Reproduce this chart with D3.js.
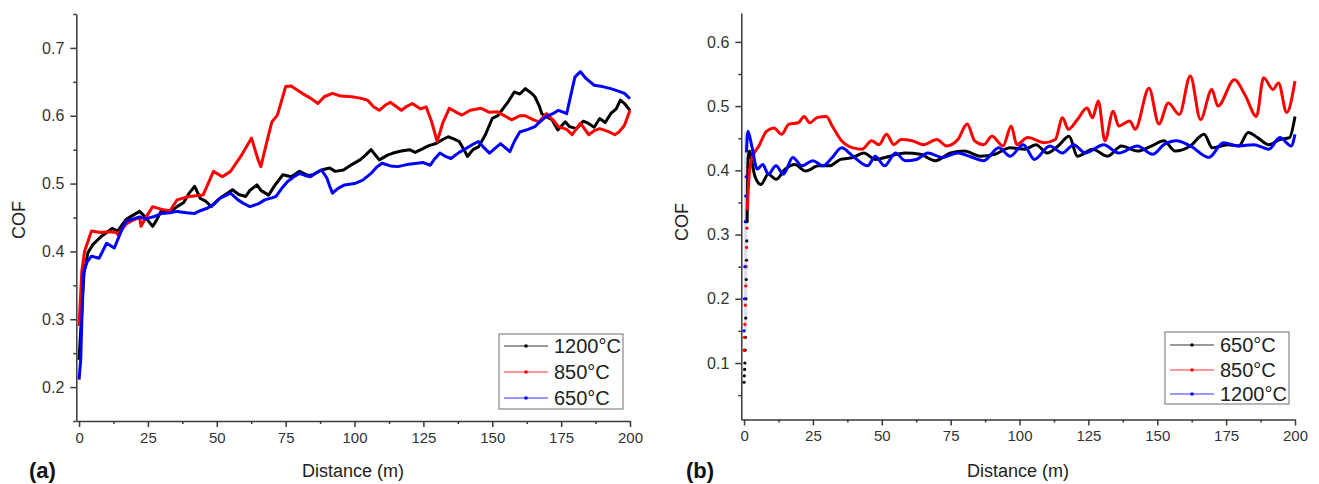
<!DOCTYPE html>
<html>
<head>
<meta charset="utf-8">
<script src="https://cdn.jsdelivr.net/npm/d3@7"></script>
<style>
  body { margin: 0; background: #fff; }
  svg { display: block; font-family: "Liberation Sans", Arial, sans-serif; }
</style>
</head>
<body>
<div id="chart"></div>
<script>
// ---- data ----
var xTicks = [0, 25, 50, 75, 100, 125, 150, 175, 200];
var xMinor = [12.5, 37.5, 62.5, 87.5, 112.5, 137.5, 162.5, 187.5];
var yTicksA = [0.2, 0.3, 0.4, 0.5, 0.6, 0.7];
var yMinorA = [0.15, 0.25, 0.35, 0.45, 0.55, 0.65, 0.75];
var yTicksB = [0.1, 0.2, 0.3, 0.4, 0.5, 0.6];
var yMinorB = [0.05, 0.15, 0.25, 0.35, 0.45, 0.55];

// panel (a)
var a1200 = [[0,0.24],[1.8,0.368],[3.2,0.398],[5,0.41],[8,0.422],[10,0.428],[12,0.434],[14,0.43],[17,0.447],[19,0.452],[22,0.459],[24,0.451],[26.7,0.437],[28,0.445],[30,0.461],[33,0.458],[35.6,0.466],[38,0.472],[40,0.486],[42,0.496],[44,0.478],[46,0.474],[48,0.466],[50,0.474],[52,0.481],[54,0.486],[55.7,0.491],[58,0.484],[60.5,0.481],[62,0.49],[64.6,0.498],[66,0.49],[68.8,0.483],[71,0.497],[74,0.513],[77,0.51],[80,0.518],[83,0.512],[85,0.513],[88,0.52],[91,0.523],[93,0.518],[96,0.52],[99,0.528],[102,0.535],[104,0.542],[106,0.55],[108,0.54],[109,0.535],[112,0.542],[114,0.545],[117,0.548],[120,0.55],[122,0.546],[125,0.552],[127,0.556],[129.6,0.559],[132,0.565],[134,0.569],[136,0.566],[138,0.562],[140,0.548],[141,0.54],[143,0.55],[145,0.554],[147.5,0.572],[150,0.596],[152,0.6],[154.4,0.613],[156,0.622],[158,0.635],[160,0.632],[162,0.64],[164,0.634],[165.5,0.628],[167,0.615],[168,0.603],[170,0.598],[171.7,0.594],[173.8,0.579],[176.5,0.591],[178,0.584],[180.6,0.581],[183,0.592],[184.8,0.589],[187,0.583],[189,0.596],[191,0.59],[193,0.603],[195,0.61],[196.5,0.623],[198,0.618],[200,0.608]];
var a850 = [[0,0.29],[1,0.37],[2,0.4],[4.5,0.43],[8,0.428],[11,0.429],[13.5,0.428],[14,0.425],[17,0.44],[20,0.447],[22,0.45],[22.5,0.437],[24,0.448],[26.7,0.466],[30,0.462],[33,0.46],[35.6,0.476],[40,0.481],[45,0.483],[48.8,0.518],[52,0.51],[55,0.518],[59,0.542],[62.6,0.567],[65,0.535],[66,0.525],[68,0.559],[70,0.591],[72,0.601],[75,0.643],[77,0.644],[81,0.633],[84,0.626],[86.7,0.618],[89,0.628],[92,0.633],[95,0.629],[99,0.628],[102,0.626],[104.7,0.623],[107,0.613],[109,0.608],[111,0.615],[113,0.62],[115,0.614],[117,0.608],[119,0.614],[121,0.618],[124,0.61],[126,0.613],[128,0.591],[130,0.562],[132,0.589],[134.4,0.611],[137,0.605],[139,0.601],[142,0.608],[146,0.611],[149,0.605],[151.7,0.606],[154,0.601],[157,0.594],[160,0.6],[162,0.6],[165,0.594],[167,0.591],[169.6,0.603],[172,0.594],[174,0.584],[177,0.58],[179,0.572],[182,0.589],[185,0.572],[187,0.578],[189,0.581],[192,0.577],[194.5,0.572],[196,0.576],[198,0.586],[200,0.608]];
var a650 = [[0,0.211],[0.6,0.24],[1.5,0.368],[3,0.385],[4.5,0.393],[7.3,0.39],[10,0.412],[12.8,0.405],[15,0.427],[17,0.444],[19,0.447],[22,0.451],[24,0.448],[27,0.451],[30,0.456],[33,0.457],[35.6,0.459],[39,0.457],[42,0.456],[44,0.46],[46.7,0.464],[49,0.47],[51,0.478],[53,0.482],[55,0.486],[57.7,0.476],[60,0.47],[62,0.466],[65,0.47],[67.4,0.476],[70,0.479],[71.5,0.481],[74,0.495],[75.7,0.503],[78,0.51],[80,0.515],[82,0.512],[84,0.51],[86,0.516],[88,0.52],[90,0.508],[91,0.496],[92,0.486],[94,0.493],[96.4,0.498],[100,0.5],[103,0.505],[106,0.515],[108,0.524],[110,0.53],[113,0.526],[115.7,0.525],[119,0.528],[122.7,0.53],[125,0.531],[127.5,0.527],[129,0.536],[131,0.545],[133,0.54],[135,0.537],[138,0.546],[140.6,0.552],[143,0.558],[145,0.562],[147,0.553],[149,0.545],[151,0.552],[153,0.559],[155,0.552],[156.4,0.547],[158,0.562],[160,0.576],[163,0.58],[165.5,0.584],[167,0.59],[169.6,0.599],[172,0.603],[174,0.608],[176,0.605],[177,0.603],[178.5,0.63],[180,0.657],[182,0.665],[184,0.655],[187,0.645],[190,0.643],[193,0.64],[196,0.636],[198,0.633],[200,0.625]];

// panel (b)
var b650Start = [[0,0.07],[0.1,0.08],[0.2,0.09],[0.3,0.1],[0.4,0.12],[0.5,0.14],[0.6,0.17],[0.7,0.2],[0.8,0.23],[0.9,0.26],[1.0,0.29],[1.1,0.32]];
var b850Start = [[0,0.12],[0.15,0.14],[0.3,0.16],[0.45,0.19],[0.6,0.22],[0.75,0.25],[0.9,0.28],[1.05,0.31],[1.2,0.34]];
var b1200Start = [[0,0.15],[0.15,0.2],[0.3,0.25],[0.45,0.32],[0.6,0.36],[0.75,0.39],[0.9,0.43]];
var b650 = [[1.1,0.32],[1.5,0.42],[2,0.43],[2.7,0.417],[4,0.39],[6.1,0.378],[8.8,0.394],[11.6,0.386],[15,0.402],[18.4,0.409],[22.4,0.399],[27,0.407],[31,0.407],[35,0.417],[39.5,0.42],[43.5,0.427],[47.6,0.417],[53,0.422],[58.5,0.427],[64,0.425],[69.4,0.415],[75,0.427],[80,0.43],[85.7,0.422],[91,0.425],[96.6,0.435],[102,0.433],[106,0.44],[110,0.427],[114,0.438],[118,0.453],[121,0.422],[126.5,0.433],[132,0.422],[137,0.438],[142.8,0.43],[148,0.438],[152.4,0.446],[156.5,0.43],[162,0.438],[167,0.456],[170,0.435],[175.5,0.44],[179.6,0.438],[183,0.459],[186.4,0.451],[190.5,0.44],[194.5,0.448],[198,0.451],[200,0.484]];
var b850 = [[1.2,0.34],[1.8,0.39],[2.7,0.417],[5.4,0.438],[8.2,0.461],[10.9,0.466],[13.6,0.456],[16.3,0.472],[19.7,0.474],[21.8,0.484],[23.8,0.474],[26.5,0.482],[29.9,0.484],[32,0.469],[35.4,0.446],[39.5,0.435],[42.9,0.433],[46.3,0.446],[49,0.44],[51.7,0.456],[54.4,0.44],[57,0.448],[61,0.446],[65.3,0.44],[70,0.448],[73.5,0.438],[77.6,0.448],[81,0.472],[83.7,0.446],[87,0.44],[90,0.453],[94,0.438],[97,0.469],[99,0.44],[103,0.451],[109,0.443],[113,0.448],[115.6,0.482],[117.7,0.464],[121,0.479],[124.5,0.497],[126.5,0.482],[128.6,0.508],[131,0.446],[134,0.492],[136,0.469],[140,0.477],[142,0.464],[147,0.528],[150.6,0.472],[154,0.505],[158,0.487],[162,0.547],[165.7,0.479],[169.8,0.526],[172,0.5],[178,0.541],[182,0.516],[186,0.484],[188.6,0.544],[192,0.526],[194,0.536],[197,0.49],[200,0.539]];
var b1200 = [[0.9,0.43],[1.4,0.461],[2.7,0.44],[4.8,0.402],[6.8,0.409],[8.8,0.394],[11.6,0.407],[14.3,0.394],[17.7,0.42],[21,0.407],[25,0.415],[28.6,0.407],[32,0.42],[35.4,0.435],[39.5,0.422],[44.9,0.407],[47.6,0.422],[51,0.407],[55,0.427],[58.5,0.415],[62.6,0.417],[66.7,0.427],[72,0.42],[77.6,0.427],[83,0.42],[87,0.415],[92.5,0.435],[96.6,0.422],[101.4,0.44],[105.4,0.417],[111,0.438],[115.6,0.427],[119.7,0.44],[123.8,0.427],[130.6,0.44],[136,0.427],[142.8,0.438],[148.3,0.425],[152.4,0.44],[157,0.446],[162,0.438],[168.7,0.42],[174,0.443],[179.6,0.438],[185,0.44],[190.5,0.433],[194.5,0.451],[198.6,0.438],[200,0.456]];

var legendA = ["1200°C", "850°C", "650°C"];
var legendB = ["650°C", "850°C", "1200°C"];
var colors = ["#000000", "#ff0000", "#0000ff"];

// ---- drawing ----
var svg = d3.select("#chart").append("svg")
    .attr("width", 1319)
    .attr("height", 484);

var axisColor = "#3a3a3a";

function drawAxes(g, x, y, yTicks, yMinor, yFmt) {
    var xa = g.append("g").attr("transform", "translate(0," + y.range()[0] + ")")
        .call(d3.axisBottom(x).tickValues(xTicks).tickSize(6).tickSizeOuter(0).tickPadding(5));
    g.append("g").attr("transform", "translate(0," + y.range()[0] + ")")
        .call(d3.axisBottom(x).tickValues(xMinor).tickSize(3).tickFormat(""))
        .select(".domain").remove();
    var ya = g.append("g").attr("transform", "translate(" + x.range()[0] + ",0)")
        .call(d3.axisLeft(y).tickValues(yTicks).tickSize(6).tickSizeOuter(0).tickPadding(6).tickFormat(yFmt));
    g.append("g").attr("transform", "translate(" + x.range()[0] + ",0)")
        .call(d3.axisLeft(y).tickValues(yMinor).tickSize(3).tickFormat(""))
        .select(".domain").remove();
    g.selectAll(".domain, .tick line").attr("stroke", axisColor).attr("stroke-width", 1.5);
    xa.selectAll("text").attr("font-size", 15).attr("fill", "#333").attr("font-family", "Liberation Sans, Arial, sans-serif");
    ya.selectAll("text").attr("font-size", 16).attr("fill", "#333").attr("font-family", "Liberation Sans, Arial, sans-serif");
}

function drawLegend(g, x0, y0, w, h, labels, rows) {
    g.append("rect").attr("x", x0).attr("y", y0).attr("width", w).attr("height", h)
        .attr("fill", "#fff").attr("stroke", "#888").attr("stroke-width", 1.2);
    labels.forEach(function(lab, i) {
        var yy = rows[i];
        g.append("line").attr("x1", x0 + 5).attr("x2", x0 + 49).attr("y1", yy).attr("y2", yy)
            .attr("stroke", colors[i]).attr("stroke-width", 1).attr("opacity", 0.8);
        g.append("circle").attr("cx", x0 + 27).attr("cy", yy).attr("r", 1.8).attr("fill", colors[i]);
        g.append("text").attr("x", x0 + 55).attr("y", yy + 7).attr("font-size", 20).attr("fill", "#222")
            .text(lab);
    });
}

// panel (a)
var xA = d3.scaleLinear().domain([-1, 200]).range([76.3, 630]);
var yA = d3.scaleLinear().domain([0.15, 0.75]).range([421, 14]);
var gA = svg.append("g");
drawAxes(gA, xA, yA, yTicksA, yMinorA, d3.format(".1f"));

var lineA = d3.line().x(function(d) { return xA(d[0]); }).y(function(d) { return yA(d[1]); });
[a1200, a850, a650].forEach(function(s, i) {
    gA.append("path").datum(s).attr("d", lineA).attr("fill", "none")
        .attr("stroke", colors[i]).attr("stroke-width", 3).attr("stroke-linejoin", "round");
});
drawLegend(gA, 499, 334, 124, 75, legendA, [346, 372, 398]);

gA.append("text").attr("transform", "translate(25,220) rotate(-90)").attr("text-anchor", "middle")
    .attr("font-size", 18).attr("fill", "#222").text("COF");
gA.append("text").attr("x", 353).attr("y", 477).attr("text-anchor", "middle")
    .attr("font-size", 18).attr("fill", "#222").text("Distance (m)");
gA.append("text").attr("x", 29).attr("y", 478).attr("font-size", 22).attr("font-weight", "bold")
    .attr("fill", "#111").text("(a)");

// panel (b)
var xB = d3.scaleLinear().domain([-1, 200]).range([741.3, 1295]);
var yB = d3.scaleLinear().domain([0.012, 0.645]).range([419.5, 13]);
var gB = svg.append("g");
drawAxes(gB, xB, yB, yTicksB, yMinorB, d3.format(".1f"));

// faint band at the start
gB.append("rect").attr("x", xB(0)).attr("y", yB(0.46)).attr("width", xB(1.2) - xB(0))
    .attr("height", yB(0.15) - yB(0.46)).attr("fill", "#c8c8e0").attr("opacity", 0.6);

var lineB = d3.line().curve(d3.curveMonotoneX)
    .x(function(d) { return xB(d[0]); }).y(function(d) { return yB(d[1]); });
[b650, b850, b1200].forEach(function(s, i) {
    gB.append("path").datum(s).attr("d", lineB).attr("fill", "none")
        .attr("stroke", colors[i]).attr("stroke-width", 3).attr("stroke-linejoin", "round");
});
[b650Start, b850Start, b1200Start].forEach(function(s, i) {
    gB.selectAll(null).data(s).enter().append("circle")
        .attr("cx", function(d) { return xB(d[0]); })
        .attr("cy", function(d) { return yB(d[1]); })
        .attr("r", 1.6).attr("fill", colors[i]);
});
drawLegend(gB, 1165, 332, 124, 72, legendB, [345, 370, 394]);

gB.append("text").attr("transform", "translate(688,222) rotate(-90)").attr("text-anchor", "middle")
    .attr("font-size", 18).attr("fill", "#222").text("COF");
gB.append("text").attr("x", 1018).attr("y", 477).attr("text-anchor", "middle")
    .attr("font-size", 18).attr("fill", "#222").text("Distance (m)");
gB.append("text").attr("x", 686).attr("y", 478).attr("font-size", 22).attr("font-weight", "bold")
    .attr("fill", "#111").text("(b)");
</script>
</body>
</html>
